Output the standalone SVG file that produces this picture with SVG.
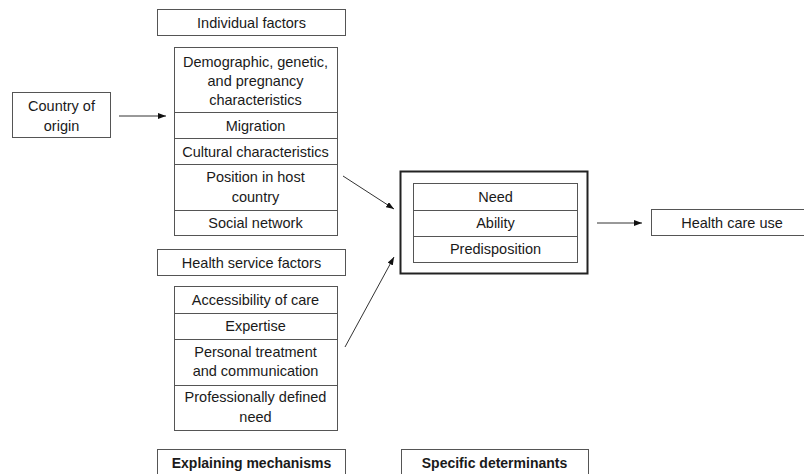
<svg xmlns="http://www.w3.org/2000/svg" width="804" height="474" viewBox="0 0 804 474">
<style>
.b{fill:#fff;stroke:#555;stroke-width:1}
.d{stroke:#555;stroke-width:1}
.t{font-family:"Liberation Sans",Arial,sans-serif;font-size:14.5px;fill:#1a1a1a;text-anchor:middle}
.bt{font-weight:bold;font-size:14px}
.c{stroke:#333;stroke-width:1;fill:none;marker-end:url(#ah)}
</style>
<defs>
<marker id="ah" viewBox="0 0 8 6" refX="8" refY="3" markerWidth="8" markerHeight="6" markerUnits="userSpaceOnUse" orient="auto">
<path d="M0,0 L8,3 L0,6 z" fill="#111"/>
</marker>
</defs>
<rect width="804" height="474" fill="#fff"/>
<g id="individual-factors">
<rect class="b" x="157.5" y="9.5" width="188" height="26"/>
<text class="t" x="251.5" y="28">Individual factors</text>
</g>
<g id="country-of-origin">
<rect class="b" x="12.5" y="92.5" width="98" height="45"/>
<text class="t" x="61.5" y="111">Country of</text>
<text class="t" x="61.5" y="131">origin</text>
</g>
<g id="individual-stack">
<rect class="b" x="174.5" y="47.5" width="163" height="188"/>
<line class="d" x1="174.5" y1="112.5" x2="337.5" y2="112.5"/>
<line class="d" x1="174.5" y1="138.5" x2="337.5" y2="138.5" stroke-width="1.5"/>
<line class="d" x1="174.5" y1="164.5" x2="337.5" y2="164.5"/>
<line class="d" x1="174.5" y1="210.5" x2="337.5" y2="210.5"/>
<text class="t" x="255.5" y="67">Demographic, genetic,</text>
<text class="t" x="255.5" y="86">and pregnancy</text>
<text class="t" x="255.5" y="105">characteristics</text>
<text class="t" x="255.5" y="131">Migration</text>
<text class="t" x="255.5" y="156.5">Cultural characteristics</text>
<text class="t" x="255.5" y="182">Position in host</text>
<text class="t" x="255.5" y="202">country</text>
<text class="t" x="255.5" y="228">Social network</text>
</g>
<g id="health-service-factors">
<rect class="b" x="157.5" y="249.5" width="188" height="26"/>
<text class="t" x="251.5" y="267.5">Health service factors</text>
</g>
<g id="health-service-stack">
<rect class="b" x="174.5" y="286.5" width="163" height="144"/>
<line class="d" x1="174.5" y1="313.5" x2="337.5" y2="313.5"/>
<line class="d" x1="174.5" y1="339.5" x2="337.5" y2="339.5"/>
<line class="d" x1="174.5" y1="385.5" x2="337.5" y2="385.5"/>
<text class="t" x="255.5" y="305">Accessibility of care</text>
<text class="t" x="255.5" y="331">Expertise</text>
<text class="t" x="255.5" y="357">Personal treatment</text>
<text class="t" x="255.5" y="376">and communication</text>
<text class="t" x="255.5" y="402">Professionally defined</text>
<text class="t" x="255.5" y="422">need</text>
</g>
<g id="explaining-mechanisms">
<rect class="b" x="157.5" y="449.5" width="188" height="30"/>
<text class="t bt" x="251.5" y="467.5">Explaining mechanisms</text>
</g>
<g id="determinants">
<rect x="400.5" y="171.5" width="187" height="102" fill="#fff" stroke="#222" stroke-width="2"/>
<rect class="b" x="413.5" y="183.5" width="164" height="79"/>
<line class="d" x1="413.5" y1="210.5" x2="577.5" y2="210.5"/>
<line class="d" x1="413.5" y1="236.5" x2="577.5" y2="236.5"/>
<text class="t" x="495.5" y="202">Need</text>
<text class="t" x="495.5" y="228">Ability</text>
<text class="t" x="495.5" y="254">Predisposition</text>
</g>
<g id="health-care-use">
<rect class="b" x="651.5" y="209.5" width="160" height="26"/>
<text class="t" x="732" y="228">Health care use</text>
</g>
<g id="specific-determinants">
<rect class="b" x="401.5" y="449.5" width="187" height="30"/>
<text class="t bt" x="494.5" y="467.5">Specific determinants</text>
</g>
<g id="connectors">
<line class="c" x1="119" y1="116" x2="166" y2="116"/>
<line class="c" x1="343" y1="176" x2="394" y2="209"/>
<line class="c" x1="345" y1="347" x2="394" y2="257"/>
<line class="c" x1="597" y1="223" x2="642" y2="223"/>
</g>
</svg>
